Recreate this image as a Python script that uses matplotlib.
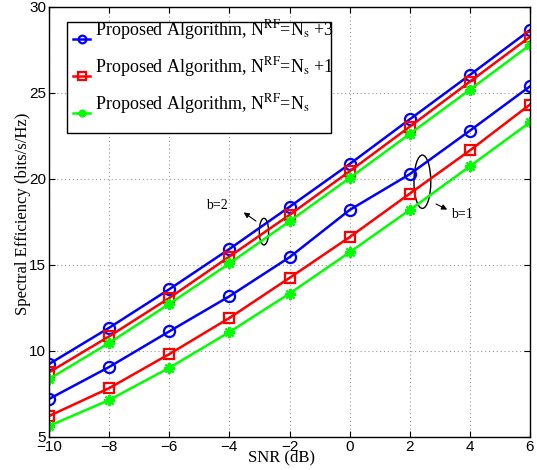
import matplotlib
matplotlib.use("Agg")
import matplotlib.pyplot as plt
from matplotlib.patches import Ellipse
from matplotlib.transforms import ScaledTranslation

snr = [-10, -8, -6, -4, -2, 0, 2, 4, 6]
b2_rf3 = [9.24, 11.35, 13.59, 15.93, 18.38, 20.87, 23.47, 26.05, 28.66]
b2_rf1 = [8.76, 10.85, 13.08, 15.49, 17.91, 20.45, 23.04, 25.66, 28.27]
b2_rf0 = [8.37, 10.47, 12.74, 15.09, 17.54, 20.06, 22.62, 25.19, 27.80]
b1_rf3 = [7.21, 9.07, 11.14, 13.18, 15.45, 18.20, 20.28, 22.81, 25.39]
b1_rf1 = [6.22, 7.84, 9.82, 11.92, 14.25, 16.62, 19.15, 21.66, 24.33]
b1_rf0 = [5.64, 7.15, 9.02, 11.10, 13.34, 15.74, 18.20, 20.74, 23.30]
labels = [r'Proposed Algorithm, N$^{\rm RF}$=N$_{\rm s}$ +3',
          r'Proposed Algorithm, N$^{\rm RF}$=N$_{\rm s}$ +1',
          r'Proposed Algorithm, N$^{\rm RF}$=N$_{\rm s}$']
xticks = [-10, -8, -6, -4, -2, 0, 2, 4, 6]
yticks = [5, 10, 15, 20, 25, 30]

plt.rcParams['mathtext.fontset'] = 'stix'
serif = 'Liberation Serif'
sans = 'Liberation Sans'

fig = plt.figure(figsize=(5.37, 4.70), dpi=100)
ax = fig.add_axes([49/537, 33/470, 481/537, 430/470])

lw = 1.8
ms = 8
styles = [dict(color='#0000FF', marker='o', mfc='none', mec='#0000FF', ms=ms, mew=1.6),
          dict(color='#FF0000', marker='s', mfc='none', mec='#FF0000', ms=7.5, mew=1.6),
          dict(color='#00FF00', marker=(8, 2, 0), mfc='#00FF00', mec='#00FF00', ms=8, mew=1.6)]

for data, st, lab in zip([b2_rf3, b2_rf1, b2_rf0], styles, labels):
    ax.plot(snr, data, lw=lw, label=lab, **st)
for data, st in zip([b1_rf3, b1_rf1, b1_rf0], styles):
    ax.plot(snr, data, lw=lw, **st)

ax.set_xlim(-10, 6)
ax.set_ylim(5, 30)
ax.set_xticks(xticks)
ax.set_yticks(yticks)
ax.set_xticklabels([('\u2212' + str(-t)) if t < 0 else str(t) for t in xticks], fontfamily=sans, fontsize=11)
ax.set_yticklabels([str(t) for t in yticks], fontfamily=sans, fontsize=11)
ax.tick_params(direction='in', top=True, right=True, length=4, width=0.8, pad=2)
ax.grid(True, linestyle=(0, (1, 2.5)), color='#999999', linewidth=0.8)
for s in ax.spines.values():
    s.set_linewidth(1.0)
ax.set_xlabel('SNR (dB)', fontfamily=serif, fontsize=12, labelpad=-3)
ax.set_ylabel('Spectral Efficiency (bits/s/Hz)', fontfamily=serif, fontsize=12, labelpad=-1)
ax.xaxis.label.set_x(0.484)
ax.yaxis.label.set_y(0.52)

leg = ax.legend(loc='upper left', bbox_to_anchor=(0.0368, 0.5, 0.549, 0.466), mode='expand',
                prop={'family': serif, 'size': 13},
                fancybox=False, edgecolor='black', framealpha=1, handlelength=0.95,
                borderpad=0.36, labelspacing=0.72, handletextpad=0.25, borderaxespad=0)
leg.get_frame().set_linewidth(1.0)
for h in leg.legend_handles:
    h.set_markersize(5.5)
shift = ScaledTranslation(0, 7/72, fig.dpi_scale_trans)
for t in leg.get_texts():
    t.set_transform(t.get_transform() + shift)

# annotations
ax.add_patch(Ellipse((-2.85, 16.94), 0.31, 1.55, fill=False, edgecolor='black', lw=1.0))
ax.annotate('', xy=(-3.6, 18.15), xytext=(-3.04, 17.46),
            arrowprops=dict(arrowstyle='-|>', color='black', lw=0.8, mutation_scale=8))
ax.text(-4.4, 18.45, 'b=2', fontfamily=serif, fontsize=10, ha='center', va='center')
ax.add_patch(Ellipse((2.42, 19.84), 0.56, 3.1, fill=False, edgecolor='black', lw=1.0))
ax.annotate('', xy=(3.33, 18.15), xytext=(2.79, 18.62),
            arrowprops=dict(arrowstyle='-|>', color='black', lw=0.8, mutation_scale=8))
ax.text(3.75, 17.95, 'b=1', fontfamily=serif, fontsize=10, ha='center', va='center')

fig.savefig('out.png', dpi=100)
